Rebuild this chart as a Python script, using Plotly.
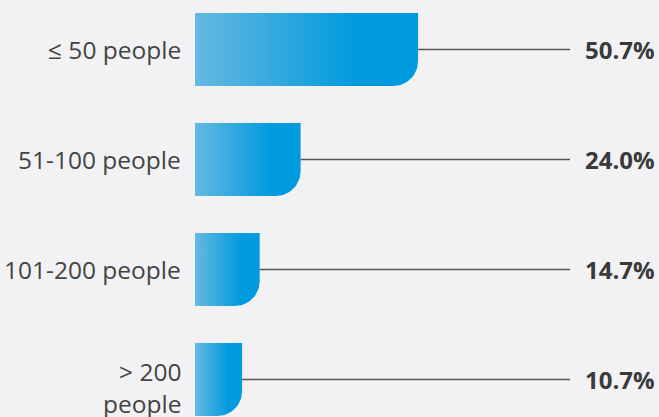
import plotly.graph_objects as go
import numpy as np

categories = ["≤ 50 people", "51-100 people", "101-200 people", "> 200<br>people"]
values = [50.7, 24.0, 14.7, 10.7]
value_labels = ["50.7%", "24.0%", "14.7%", "10.7%"]

W, H = 659, 417
x0_px = 195          # pixel where value 0 sits
px_per_unit = 4.4    # pixels per percentage point
row0_px = 49.5       # pixel center of first row
row_px = 110         # row spacing
bar_half = 0.332     # half bar height in row units
radius_px = 25
line_end = (570 - x0_px) / px_per_unit

xr = [-x0_px / px_per_unit, (W - x0_px) / px_per_unit]
yr = [(H - row0_px) / row_px, -row0_px / row_px]

rx = radius_px / px_per_unit
ry = radius_px / row_px

fig = go.Figure()

for i, v in enumerate(values):
    top, bot = i - bar_half, i + bar_half
    # connector line
    fig.add_trace(go.Scatter(x=[v, line_end], y=[i, i], mode="lines",
                             line=dict(color="#555555", width=1.6),
                             hoverinfo="skip", showlegend=False))
    # bar polygon with rounded bottom-right corner
    t = np.linspace(0, np.pi / 2, 20)
    cx, cy = v - rx, bot - ry
    arc_x = cx + rx * np.cos(t)
    arc_y = cy + ry * np.sin(t)
    xs = [0, v] + list(arc_x) + [0, 0]
    ys = [top, top] + list(arc_y) + [bot, top]
    fig.add_trace(go.Scatter(
        x=xs, y=ys, mode="lines", fill="toself",
        line=dict(width=0, color="rgba(0,0,0,0)"),
        fillgradient=dict(type="horizontal",
                          colorscale=[[0, "#66b9e1"], [0.72, "#009ade"], [1, "#009ade"]]),
        hoverinfo="skip", showlegend=False))
    # category label
    two_line = "<br>" in categories[i]
    fig.add_annotation(x=-12 / px_per_unit, y=i, text=categories[i], showarrow=False,
                       xref="x", yref="y", xanchor="right", align="right",
                       yshift=-8 if two_line else 0,
                       font=dict(family="Open Sans", size=24.5, color="#444444"))
    # value label
    fig.add_annotation(x=xr[1], y=i, text="<b>" + value_labels[i] + "</b>", showarrow=False,
                       xref="x", yref="y", xanchor="right", xshift=-2,
                       font=dict(family="Open Sans", size=24, color="#3a3a3a"))

fig.update_layout(
    width=W, height=H,
    margin=dict(l=0, r=0, t=0, b=0),
    paper_bgcolor="#f2f2f5", plot_bgcolor="#f2f2f5",
    xaxis=dict(range=xr, visible=False, fixedrange=True),
    yaxis=dict(range=yr, visible=False, fixedrange=True),
)

fig.write_html("out.html")
